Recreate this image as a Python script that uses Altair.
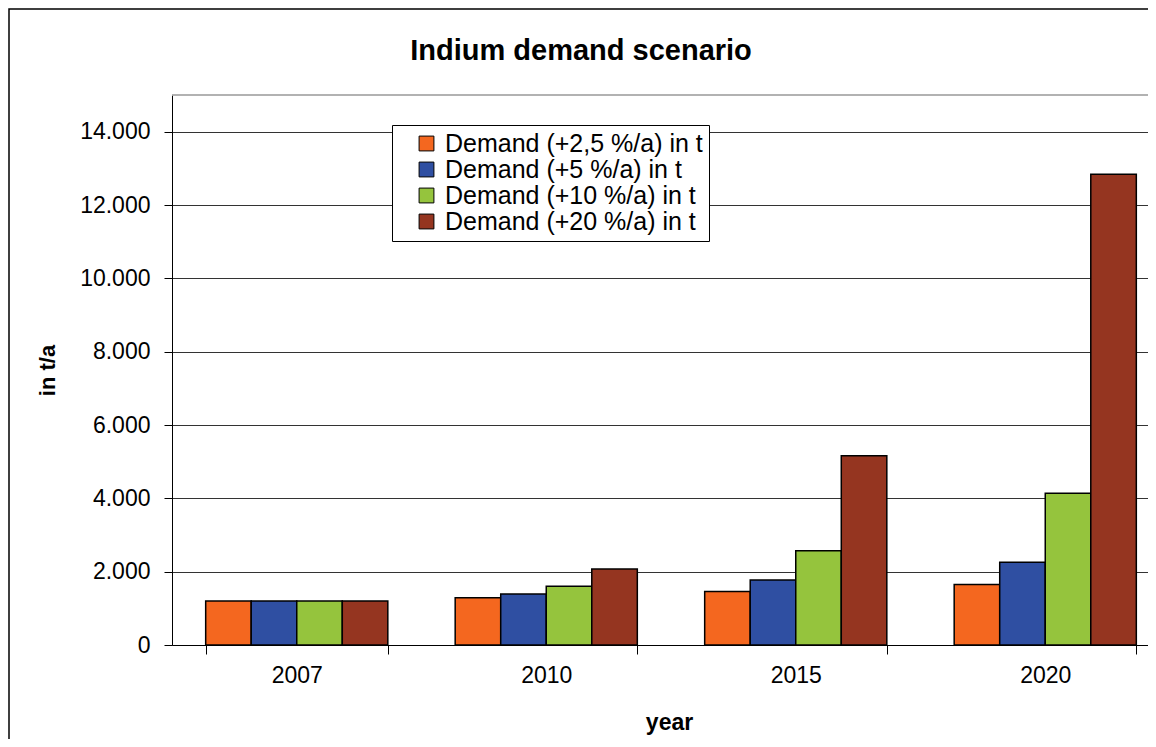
import altair as alt
import pandas as pd

years = ["2007", "2010", "2015", "2020"]
scenarios = [
    "Demand (+2,5 %/a) in t",
    "Demand (+5 %/a) in t",
    "Demand (+10 %/a) in t",
    "Demand (+20 %/a) in t",
]
demand_2_5 = [1200, 1290, 1460, 1650]
demand_5 = [1200, 1390, 1770, 2260]
demand_10 = [1200, 1600, 2570, 4140]
demand_20 = [1200, 2070, 5160, 12840]
colors = ["#F4671F", "#2F4FA2", "#95C43D", "#953520"]
y_ticks = [0, 2000, 4000, 6000, 8000, 10000, 12000, 14000]

series = [demand_2_5, demand_5, demand_10, demand_20]
rows = []
for s_name, vals in zip(scenarios, series):
    for yr, v in zip(years, vals):
        rows.append({"year": yr, "scenario": s_name, "value": v})
df = pd.DataFrame(rows)

FONT = "Liberation Sans"

bars = alt.Chart(df).mark_bar(stroke="black", strokeWidth=1.5).encode(
    x=alt.X(
        "year:N",
        sort=years,
        scale=alt.Scale(range=[0, 998], paddingInner=0.27, paddingOuter=0.135),
        axis=alt.Axis(
            title="year",
            titleFontSize=23,
            titleFontWeight="bold",
            titleX=497,
            titleY=77,
            titleBaseline="middle",
            labelAngle=0,
            labelFontSize=23,
            labelPadding=10,
            tickBand="extent",
            tickSize=9,
            tickColor="black",
            domainColor="black",
            labelColor="black",
            titleColor="black",
            grid=False,
        ),
    ),
    xOffset=alt.XOffset("scenario:N", sort=scenarios, scale=alt.Scale(paddingInner=0, paddingOuter=0)),
    y=alt.Y(
        "value:Q",
        scale=alt.Scale(domain=[0, 15000], nice=False),
        axis=alt.Axis(
            title="in t/a",
            titleFontSize=22,
            titleFontWeight="bold",
            titleX=-125,
            titleBaseline="middle",
            titleColor="black",
            values=y_ticks,
            labelExpr="replace(format(datum.value, ','), ',', '.')",
            labelFontSize=23,
            labelPadding=14,
            labelColor="black",
            tickSize=8,
            tickColor="black",
            domainColor="black",
            grid=True,
            gridColor="#333333",
            gridWidth=1,
        ),
    ),
    color=alt.Color(
        "scenario:N",
        sort=scenarios,
        scale=alt.Scale(domain=scenarios, range=colors),
        legend=alt.Legend(
            title=None,
            orient="none",
            legendX=220,
            legendY=30,
            labelFontSize=25,
            labelLimit=500,
            labelColor="black",
            symbolType="square",
            symbolSize=220,
            symbolStrokeColor="black",
            symbolStrokeWidth=1,
            symbolOpacity=1,
            symbolOffset=16,
            labelOffset=6,
            rowPadding=0,
            padding=6,
            strokeColor="black",
            fillColor="white",
        ),
    ),
)

top_line = alt.Chart(alt.Data(values=[{}])).mark_rule(color="#999999", strokeWidth=1.5).encode(
    y=alt.datum(15000)
)

frame = alt.Chart(alt.Data(values=[{}])).mark_rect(
    fill=None, fillOpacity=0, stroke="black", strokeWidth=1.5
).encode(
    x=alt.value(-163),
    x2=alt.value(3000),
    y=alt.value(-86),
    y2=alt.value(3000),
)

chart = alt.layer(top_line, bars, frame).properties(
    width=976,
    height=550,
    padding={"left": 164, "top": 87, "right": 0, "bottom": 94},
    autosize=alt.AutoSizeParams(type="none"),
    title=alt.TitleParams(
        "Indium demand scenario",
        fontSize=29,
        fontWeight="bold",
        font=FONT,
        color="black",
        anchor="middle",
        dx=-79,
        offset=-58,
    ),
).configure(
    font=FONT,
).configure_view(
    stroke=None
).configure_axis(
    labelFont=FONT, titleFont=FONT
).configure_legend(
    labelFont=FONT
)

chart.save("out.html", embed_options={"renderer": "svg", "actions": False})
